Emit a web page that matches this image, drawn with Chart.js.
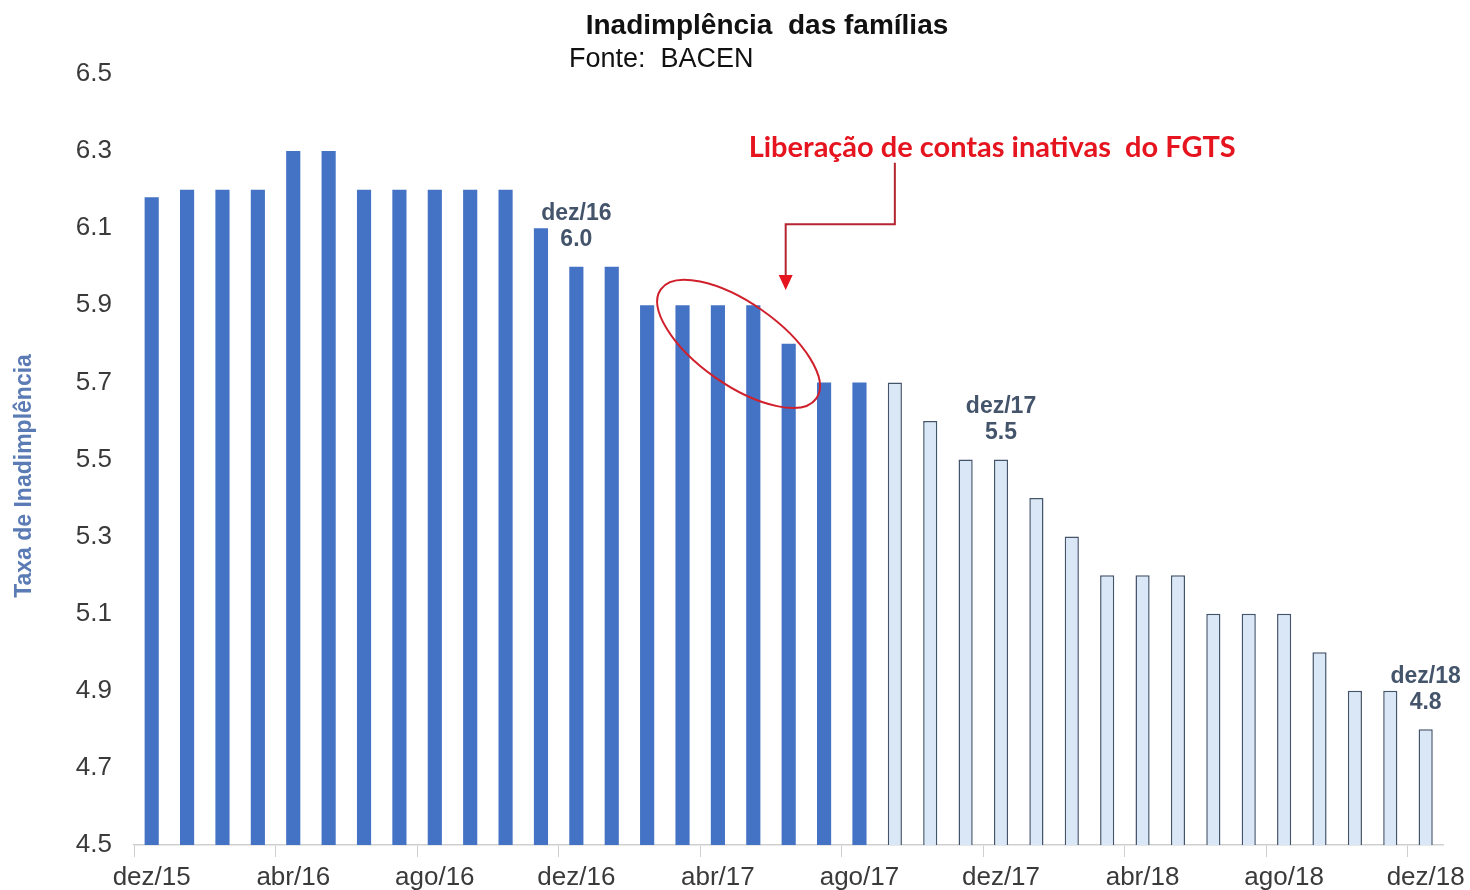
<!DOCTYPE html>
<html lang="pt-BR">
<head>
<meta charset="utf-8">
<title>Inadimplência das famílias</title>
<script src="https://cdn.jsdelivr.net/npm/chart.js@4.4.1/dist/chart.umd.min.js"></script>
<style>
    html, body { margin: 0; padding: 0; background: #ffffff; }
    #wrap { width: 1470px; height: 890px; position: relative; }
</style>
</head>
<body>
<div id="wrap"><canvas id="inadChart"></canvas></div>
<script>
// Série mensal de inadimplência das famílias (%), dez/15 a dez/18
const meses = [
    'dez/15', 'jan/16', 'fev/16', 'mar/16', 'abr/16', 'mai/16', 'jun/16', 'jul/16', 'ago/16', 'set/16', 'out/16', 'nov/16',
    'dez/16', 'jan/17', 'fev/17', 'mar/17', 'abr/17', 'mai/17', 'jun/17', 'jul/17', 'ago/17', 'set/17', 'out/17', 'nov/17',
    'dez/17', 'jan/18', 'fev/18', 'mar/18', 'abr/18', 'mai/18', 'jun/18', 'jul/18', 'ago/18', 'set/18', 'out/18', 'nov/18',
    'dez/18'
];
const taxa = [
    6.18, 6.2, 6.2, 6.2, 6.3, 6.3, 6.2, 6.2, 6.2, 6.2, 6.2, 6.1,
    6.0, 6.0, 5.9, 5.9, 5.9, 5.9, 5.8, 5.7, 5.7, 5.7, 5.6, 5.5,
    5.5, 5.4, 5.3, 5.2, 5.2, 5.2, 5.1, 5.1, 5.1, 5.0, 4.9, 4.9,
    4.8
];
// último mês em azul escuro; depois disso as barras ficam claras
const ultimoMesEscuro = 'ago/17';
// meses com rótulo de valor
const mesesDestaque = ['dez/16', 'dez/17', 'dez/18'];
const yTicks = [4.5, 4.7, 4.9, 5.1, 5.3, 5.5, 5.7, 5.9, 6.1, 6.3, 6.5];

const corteIdx = meses.indexOf(ultimoMesEscuro);
const AZUL = '#4472c4';
const AZUL_CLARO = '#d9e7f7';
const BORDA_CLARA = '#44546a';
const ROTULO = '#44546a';
const VERMELHO = '#e5141e';
const FONTE = '"Liberation Sans", Arial, sans-serif';

// títulos e anotações desenhados direto no canvas
const anotacoes = {
    id: 'anotacoes',
    afterDraw(chart) {
        const ctx = chart.ctx;
        const x = chart.scales.x;
        const y = chart.scales.y;

        ctx.save();
        ctx.fillStyle = '#111111';
        ctx.textBaseline = 'middle';
        ctx.textAlign = 'center';
        ctx.font = 'bold 28px ' + FONTE;
        ctx.fillText('Inadimplência  das famílias', 767, 26);
        ctx.textAlign = 'left';
        ctx.font = '27px ' + FONTE;
        ctx.fillText('Fonte:  BACEN', 569, 60);

        // título do eixo y
        ctx.save();
        ctx.translate(25, 476);
        ctx.rotate(-Math.PI / 2);
        ctx.textAlign = 'center';
        ctx.fillStyle = '#5b7bb5';
        ctx.font = 'bold 23px ' + FONTE;
        ctx.fillText('Taxa de Inadimplência', 0, 0);
        ctx.restore();

        // rótulos mês / valor sobre as barras destacadas
        ctx.fillStyle = ROTULO;
        ctx.textAlign = 'center';
        ctx.font = 'bold 23px ' + FONTE;
        mesesDestaque.forEach(m => {
            const i = meses.indexOf(m);
            const px = x.getPixelForValue(i);
            const py = y.getPixelForValue(taxa[i]);
            ctx.fillText(m, px, py - 53);
            ctx.fillText(taxa[i].toFixed(1), px, py - 27);
        });

        // elipse em volta dos meses de liberação do FGTS
        const cx = x.getPixelForValue(16.5) + 3;
        const cy = y.getPixelForValue(5.8);
        ctx.strokeStyle = '#d0202c';
        ctx.lineWidth = 2;
        ctx.beginPath();
        ctx.ellipse(cx, cy, 95, 41, 35 * Math.PI / 180, 0, Math.PI * 2);
        ctx.stroke();

        // texto e seta
        const aviso = 'Liberação de contas inativas  do FGTS';
        ctx.font = 'bold 25px Lato, "Open Sans", sans-serif';
        const tam = Math.round(25 * 489 / ctx.measureText(aviso).width);
        ctx.font = 'bold ' + tam + 'px Lato, "Open Sans", sans-serif';
        ctx.fillStyle = VERMELHO;
        ctx.fillText(aviso, x.getPixelForValue(23.75), y.getPixelForValue(6.31));

        const xa = x.getPixelForValue(21);
        const xb = x.getPixelForValue(18) - 3;
        const yTopo = y.getPixelForValue(6.27);
        const yMeio = y.getPixelForValue(6.11);
        const yPonta = y.getPixelForValue(5.94);
        ctx.strokeStyle = '#b5252f';
        ctx.lineWidth = 2;
        ctx.beginPath();
        ctx.moveTo(xa, yTopo);
        ctx.lineTo(xa, yMeio);
        ctx.lineTo(xb, yMeio);
        ctx.lineTo(xb, yPonta - 14);
        ctx.stroke();
        ctx.fillStyle = VERMELHO;
        ctx.beginPath();
        ctx.moveTo(xb - 7, yPonta - 15);
        ctx.lineTo(xb + 7, yPonta - 15);
        ctx.lineTo(xb, yPonta);
        ctx.closePath();
        ctx.fill();
        ctx.restore();
    }
};

const ctx = document.getElementById('inadChart').getContext('2d');
new Chart(ctx, {
    type: 'bar',
    data: {
        labels: meses,
        datasets: [{
            label: 'Taxa de Inadimplência',
            data: taxa,
            backgroundColor: meses.map((m, i) => i <= corteIdx ? AZUL : AZUL_CLARO),
            borderColor: meses.map((m, i) => i <= corteIdx ? AZUL : BORDA_CLARA),
            borderWidth: meses.map((m, i) => i <= corteIdx ? 0 : 1.5),
            borderSkipped: 'bottom',
            barPercentage: 0.4,
            categoryPercentage: 1.0
        }]
    },
    options: {
        responsive: true,
        maintainAspectRatio: false,
        animation: false,
        layout: {
            padding: { top: 74, right: 22, bottom: 0, left: 0 }
        },
        plugins: {
            legend: { display: false },
            tooltip: { enabled: false }
        },
        scales: {
            x: {
                offset: true,
                grid: {
                    offset: true,
                    drawOnChartArea: false,
                    tickLength: 12,
                    color: c => (c.index % 4 === 0 ? '#d0d0d0' : 'rgba(0,0,0,0)')
                },
                border: { display: true, color: '#d0d0d0', width: 1.5 },
                ticks: {
                    autoSkip: false,
                    maxRotation: 0,
                    padding: 5,
                    color: '#3a3a3a',
                    font: { family: FONTE, size: 26 },
                    callback: function (v, i) { return i % 4 === 0 ? meses[i] : ''; }
                },
                afterFit: function (scale) { scale.height = 45; }
            },
            y: {
                min: 4.5,
                max: 6.5,
                afterBuildTicks: function (scale) {
                    scale.ticks = yTicks.map(v => ({ value: v }));
                },
                grid: { display: false, drawTicks: false },
                border: { display: false },
                ticks: {
                    padding: 22,
                    color: '#3a3a3a',
                    font: { family: FONTE, size: 26 },
                    callback: v => Number(v).toFixed(1)
                },
                afterFit: function (scale) { scale.width = 134; }
            }
        }
    },
    plugins: [anotacoes]
});
</script>
</body>
</html>
